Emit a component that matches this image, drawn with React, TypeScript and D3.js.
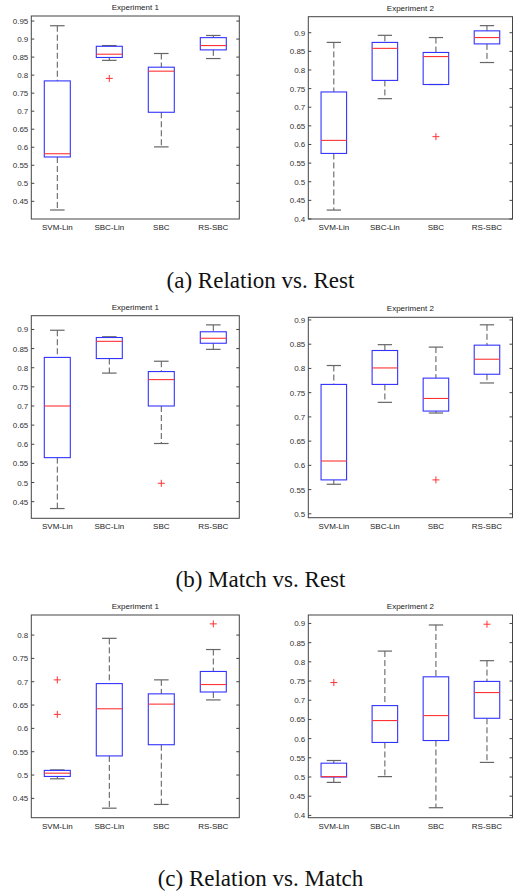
import React from "react";
import * as d3 from "d3";

// groups on the x axis
const groups = ["SVM-Lin", "SBC-Lin", "SBC", "RS-SBC"];

// each row: [lower whisker, q1, median, q3, upper whisker]
const relRestExp1 = [
  [0.426, 0.573, 0.582, 0.784, 0.937],
  [0.841, 0.849, 0.858, 0.880, 0.882],
  [0.601, 0.697, 0.811, 0.822, 0.860],
  [0.846, 0.870, 0.882, 0.904, 0.910],
];
const relRestExp1Out = [[], [0.791], [], []];

const relRestExp2 = [
  [0.424, 0.576, 0.611, 0.741, 0.874],
  [0.723, 0.772, 0.858, 0.874, 0.893],
  [0.761, 0.761, 0.836, 0.847, 0.887],
  [0.820, 0.870, 0.887, 0.905, 0.919],
];
const relRestExp2Out = [[], [], [0.621], []];

const matchRestExp1 = [
  [0.432, 0.565, 0.700, 0.827, 0.898],
  [0.786, 0.824, 0.869, 0.879, 0.881],
  [0.602, 0.700, 0.769, 0.790, 0.817],
  [0.848, 0.864, 0.877, 0.894, 0.912],
];
const matchRestExp1Out = [[], [], [0.498], []];

const matchRestExp2 = [
  [0.561, 0.570, 0.609, 0.767, 0.806],
  [0.730, 0.767, 0.801, 0.837, 0.849],
  [0.708, 0.712, 0.738, 0.780, 0.844],
  [0.770, 0.788, 0.819, 0.848, 0.890],
];
const matchRestExp2Out = [[], [], [0.570], []];

const relMatchExp1 = [
  [0.492, 0.497, 0.504, 0.510, 0.511],
  [0.429, 0.541, 0.642, 0.696, 0.793],
  [0.437, 0.565, 0.652, 0.674, 0.704],
  [0.661, 0.678, 0.694, 0.722, 0.769],
];
const relMatchExp1Out = [[0.704, 0.630], [], [], [0.824]];

const relMatchExp2 = [
  [0.486, 0.500, 0.501, 0.536, 0.543],
  [0.501, 0.590, 0.647, 0.686, 0.828],
  [0.420, 0.595, 0.660, 0.761, 0.896],
  [0.538, 0.653, 0.720, 0.749, 0.803],
];
const relMatchExp2Out = [[0.746], [], [], [0.898]];

const captions = ["(a) Relation vs. Rest", "(b) Match vs. Rest", "(c) Relation vs. Match"];

const panels = [
  { title: "Experiment 1", stats: relRestExp1, out: relRestExp1Out, y: [0.401, 0.964], box: [31.3, 16, 239.3, 219] },
  { title: "Experiment 2", stats: relRestExp2, out: relRestExp2Out, y: [0.4, 0.943], box: [308.3, 16.7, 512.5, 219] },
  { title: "Experiment 1", stats: matchRestExp1, out: matchRestExp1Out, y: [0.4065, 0.936], box: [31.3, 315.7, 239.3, 518.3] },
  { title: "Experiment 2", stats: matchRestExp2, out: matchRestExp2Out, y: [0.492, 0.9055], box: [308.3, 317.3, 512.5, 517.7] },
  { title: "Experiment 1", stats: relMatchExp1, out: relMatchExp1Out, y: [0.4086, 0.843], box: [31.3, 615, 239.3, 817.7] },
  { title: "Experiment 2", stats: relMatchExp2, out: relMatchExp2Out, y: [0.394, 0.922], box: [308.3, 615, 512.5, 817.7] },
];

const captionY = [288, 587, 886];

const fmt = (d: number) => String(+d.toFixed(2));
const sans = "'Liberation Sans', Arial, sans-serif";

function BoxPanel({ p }: { p: any }) {
  const [x0, y0, x1, y1] = p.box;
  const x = d3.scaleLinear().domain([0.5, 4.5]).range([x0, x1]);
  const y = d3.scaleLinear().domain(p.y).range([y1, y0]);
  const hw = x(0.25) - x(0);
  const cw = x(0.14) - x(0);
  return (
    <g>
      <text x={(x0 + x1) / 2} y={y0 - 6} textAnchor="middle" fontFamily={sans} fontSize={8} fill="#222">
        {p.title}
      </text>
      <rect x={x0} y={y0} width={x1 - x0} height={y1 - y0} fill="none" stroke="#444" strokeWidth={1} />
      {y.ticks(10).map((t, i) => (
        <g key={i}>
          <line x1={x0} x2={x0 + 3} y1={y(t)} y2={y(t)} stroke="#444" />
          <line x1={x1 - 3} x2={x1} y1={y(t)} y2={y(t)} stroke="#444" />
          <text x={x0 - 3} y={y(t) + 3} textAnchor="end" fontFamily={sans} fontSize={8} fill="#333">
            {fmt(t)}
          </text>
        </g>
      ))}
      {p.stats.map((s: number[], i: number) => {
        const cx = x(i + 1);
        const [lo, q1, med, q3, hi] = s;
        return (
          <g key={i}>
            <line x1={cx} x2={cx} y1={y(hi)} y2={y(q3)} stroke="#555" strokeDasharray="6,3" />
            <line x1={cx} x2={cx} y1={y(q1)} y2={y(lo)} stroke="#555" strokeDasharray="6,3" />
            <line x1={cx - cw} x2={cx + cw} y1={y(hi)} y2={y(hi)} stroke="#666" strokeWidth={1.2} />
            <line x1={cx - cw} x2={cx + cw} y1={y(lo)} y2={y(lo)} stroke="#666" strokeWidth={1.2} />
            <rect x={cx - hw} y={y(q3)} width={2 * hw} height={y(q1) - y(q3)} fill="none" stroke="#3333ff" strokeWidth={1.1} />
            <line x1={cx - hw} x2={cx + hw} y1={y(med)} y2={y(med)} stroke="#ff3333" strokeWidth={1.1} />
            {p.out[i].map((o: number, j: number) => (
              <g key={j} stroke="#ff3333" strokeWidth={1}>
                <line x1={cx - 3.5} x2={cx + 3.5} y1={y(o)} y2={y(o)} />
                <line x1={cx} x2={cx} y1={y(o) - 3.5} y2={y(o) + 3.5} />
              </g>
            ))}
            <text x={cx} y={y1 + 11} textAnchor="middle" fontFamily={sans} fontSize={8} fill="#222">
              {groups[i]}
            </text>
          </g>
        );
      })}
    </g>
  );
}

export default function App() {
  return (
    <svg width={515} height={892} style={{ position: "absolute", left: 0, top: 0, background: "#fff" }}>
      <rect width={515} height={892} fill="#fff" />
      {panels.map((p, i) => (
        <BoxPanel key={i} p={p} />
      ))}
      {captions.map((c, i) => (
        <text key={i} x={260.5} y={captionY[i]} textAnchor="middle" fontFamily="'Liberation Serif', 'Times New Roman', serif" fontSize={23} fill="#111">
          {c}
        </text>
      ))}
    </svg>
  );
}
